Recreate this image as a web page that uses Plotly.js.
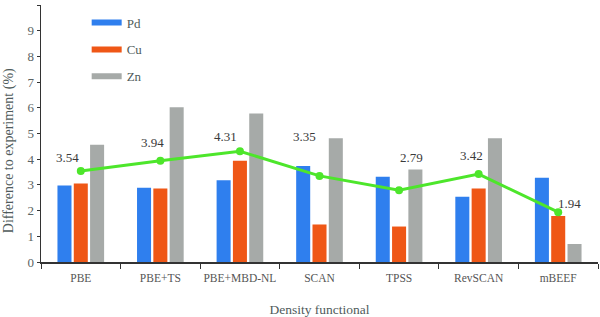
<!DOCTYPE html>
<html>
<head>
<meta charset="utf-8">
<script src="https://cdn.plot.ly/plotly-3.0.1.min.js"></script>
<style>html,body{margin:0;padding:0;background:#fff;}#chart{width:600px;height:317px;}</style>
</head>
<body>
<div id="chart"></div>
<script>
var categories = ["PBE", "PBE+TS", "PBE+MBD-NL", "SCAN", "TPSS", "RevSCAN", "mBEEF"];
var pd = [2.98, 2.89, 3.18, 3.74, 3.32, 2.54, 3.28];
var cu = [3.05, 2.86, 3.94, 1.46, 1.38, 2.86, 1.79];
var zn = [4.56, 6.02, 5.78, 4.82, 3.60, 4.82, 0.70];
var average = [3.54, 3.94, 4.31, 3.35, 2.79, 3.42, 1.94];
var averageLabels = ["3.54", "3.94", "4.31", "3.35", "2.79", "3.42", "1.94"];

// label offsets (pixels) for the average labels
var labelShiftX = [-13, -8, -14, -15, 12, -7, 11];
var labelShiftY = [14, 18, 15, 39, 33, 19, 9];

var colors = {Pd: "#2F7FEE", Cu: "#EF5716", Zn: "#A6AAA8", line: "#4DE62B"};
var font = "Liberation Serif, Times New Roman, serif";

var traces = [
  {type: "bar", x: categories, y: pd, name: "Pd", marker: {color: colors.Pd}, showlegend: false},
  {type: "bar", x: categories, y: cu, name: "Cu", marker: {color: colors.Cu}, showlegend: false},
  {type: "bar", x: categories, y: zn, name: "Zn", marker: {color: colors.Zn}, showlegend: false},
  {type: "scatter", mode: "lines+markers", x: categories, y: average, name: "Average",
   line: {color: colors.line, width: 3}, marker: {color: colors.line, size: 8}, showlegend: false},
  {type: "scatter", mode: "lines", x: [null], y: [null], name: "Pd", legendgroup: "a",
   line: {color: colors.Pd, width: 6}},
  {type: "scatter", mode: "lines", x: [null], y: [null], name: "Cu", legendgroup: "b",
   line: {color: colors.Cu, width: 6}},
  {type: "scatter", mode: "lines", x: [null], y: [null], name: "Zn", legendgroup: "c",
   line: {color: colors.Zn, width: 6}}
];

var annotations = averageLabels.map(function (t, i) {
  return {x: categories[i], y: average[i], xref: "x", yref: "y", text: t, showarrow: false,
    xshift: labelShiftX[i], yshift: labelShiftY[i], font: {family: font, size: 13, color: "#3a3a3a"}};
});
annotations.push({
  xref: "paper", yref: "paper", x: -0.057, y: 0.432, xanchor: "center", yanchor: "middle",
  text: "Difference to experiment (%)", textangle: -90, showarrow: false, borderpad: 0,
  font: {family: font, size: 14, color: "#4f5b5b"}
});

var layout = {
  width: 600, height: 317,
  margin: {l: 41, r: 2, t: 5, b: 55},
  paper_bgcolor: "#fff", plot_bgcolor: "#fff",
  barmode: "group", bargap: 0.385, bargroupgap: 0.14,
  font: {family: font, color: "#555"},
  showlegend: true,
  legend: {x: 0.082, y: 0.99, xanchor: "left", yanchor: "top", tracegroupgap: 7,
    font: {family: font, size: 13, color: "#4f5b5b"}, bgcolor: "rgba(0,0,0,0)"},
  xaxis: {type: "category", range: [-0.5, 6.5], showgrid: false, zeroline: false,
    showline: true, linecolor: "#333", linewidth: 1.5, ticks: "outside", ticklen: 5,
    tickcolor: "#333", tickson: "boundaries", ticklabelstandoff: 5, tickangle: 0,
    tickfont: {family: font, size: 11.5, color: "#555"},
    title: {text: "Density functional", standoff: 22, font: {family: font, size: 13.5, color: "#4f5b5b"}}},
  yaxis: {range: [0, 10], dtick: 1, showgrid: false, zeroline: false, showline: true,
    linecolor: "#333", linewidth: 1.5, ticks: "outside", ticklen: 3, tickcolor: "#333",
    tickfont: {family: font, size: 13, color: "#5a6363"}},
  annotations: annotations
};

Plotly.newPlot("chart", traces, layout, {displayModeBar: false, staticPlot: true});
</script>
</body>
</html>
